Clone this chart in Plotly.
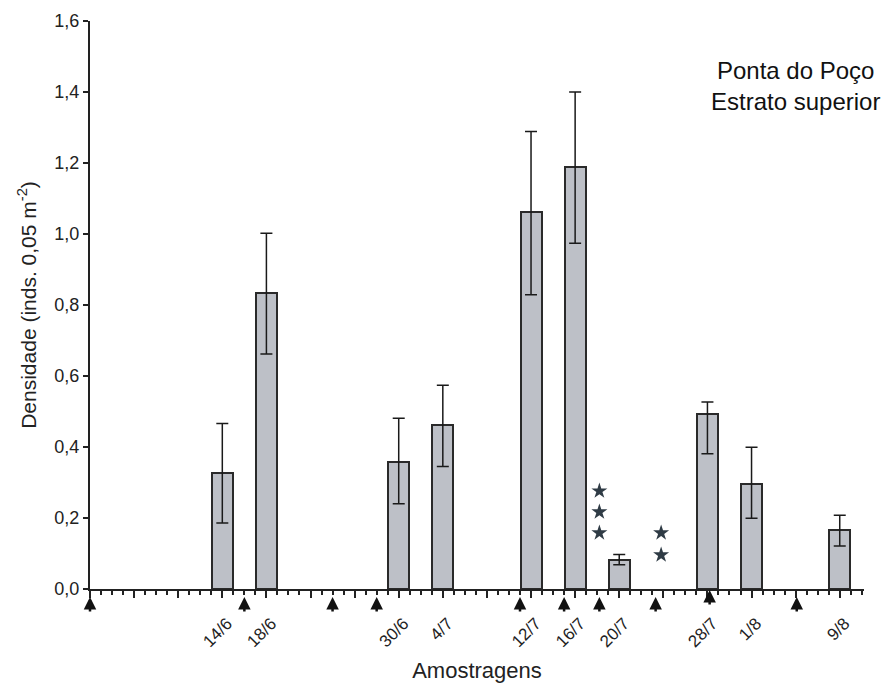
import plotly.graph_objects as go

# ---- data (day index: 0 = 2 June) ----
sample_labels = ["14/6", "18/6", "30/6", "4/7", "12/7", "16/7", "20/7", "28/7", "1/8", "9/8"]
sample_days = [12, 16, 28, 32, 40, 44, 48, 56, 60, 68]
density = [0.327, 0.833, 0.359, 0.461, 1.061, 1.188, 0.083, 0.494, 0.297, 0.165]
err_upper = [0.466, 1.002, 0.481, 0.574, 1.289, 1.400, 0.097, 0.527, 0.399, 0.208]
err_lower = [0.186, 0.662, 0.240, 0.345, 0.829, 0.974, 0.068, 0.381, 0.199, 0.121]

arrow_days = [0, 14, 22, 26, 39, 43, 46.2, 51.3, 56.2, 64.1]
arrow_raised = [0, 0, 0, 0, 0, 0, 0, 0, 1, 0]

star_x = [46.2, 46.2, 46.2, 51.8, 51.8]
star_y = [0.276, 0.217, 0.158, 0.158, 0.096]

x_range = [0, 70.2]
y_range = [0, 1.6]
y_ticks = [0, 0.2, 0.4, 0.6, 0.8, 1.0, 1.2, 1.4, 1.6]
y_ticktext = ["0,0", "0,2", "0,4", "0,6", "0,8", "1,0", "1,2", "1,4", "1,6"]

FONT = "Liberation Sans, Arial, sans-serif"
INK = "#222222"

err_plus = [u - v for u, v in zip(err_upper, density)]
err_minus = [v - l for v, l in zip(density, err_lower)]

major_vals = list(range(0, 72, 4))
label_map = dict(zip(sample_days, sample_labels))
major_text = [label_map.get(v, "") for v in major_vals]

fig = go.Figure()
fig.add_trace(go.Bar(
    x=sample_days, y=density, width=1.9,
    marker=dict(color="#bdc0c7", line=dict(color="#2a2a2a", width=2)),
    error_y=dict(type="data", symmetric=False, array=err_plus, arrayminus=err_minus,
                 color="#1a1a1a", thickness=1.5, width=6),
    showlegend=False, hoverinfo="skip",
))
fig.add_trace(go.Scatter(
    x=star_x, y=star_y, mode="markers",
    marker=dict(symbol="star", size=12, color="#2f3b45"),
    showlegend=False, hoverinfo="skip", cliponaxis=False,
))

for d, r in zip(arrow_days, arrow_raised):
    fig.add_annotation(
        x=d, y=0, xref="x", yref="y", text="", showarrow=True,
        ax=0, ay=16, axref="pixel", ayref="pixel",
        yshift=-8 + 7 * r, arrowhead=2, arrowsize=1, arrowwidth=2.5,
        arrowcolor="#111111", standoff=0,
    )

fig.add_annotation(
    x=0.912, y=0.94, xref="paper", yref="paper", showarrow=False,
    text="Ponta do Poço<br>Estrato superior", align="center",
    font=dict(family=FONT, size=24, color="#111111"),
    xanchor="center", yanchor="top",
)

fig.update_layout(
    width=885, height=685,
    margin=dict(l=90, r=21, t=21, b=96, autoexpand=False),
    plot_bgcolor="white", paper_bgcolor="white",
    font=dict(family=FONT, color=INK),
    bargap=0,
)
fig.update_xaxes(
    range=x_range, showgrid=False, zeroline=False, automargin=False,
    showline=True, linecolor=INK, linewidth=2,
    tickmode="array", tickvals=major_vals, ticktext=major_text,
    ticks="outside", ticklen=7, tickwidth=1.5, tickcolor=INK,
    tickangle=-45, tickfont=dict(size=17, family=FONT, color=INK),
    ticklabelstandoff=9, ticklabelshift=5,
    minor=dict(tickmode="linear", tick0=0, dtick=1, ticks="outside",
               ticklen=4, tickwidth=1.5, tickcolor=INK),
    title=dict(text="Amostragens", font=dict(size=22, family=FONT, color=INK), standoff=12),
)
fig.update_yaxes(
    range=y_range, showgrid=False, zeroline=False, automargin=False,
    showline=True, linecolor=INK, linewidth=2,
    tickmode="array", tickvals=y_ticks, ticktext=y_ticktext,
    ticks="outside", ticklen=5, tickwidth=1.5, tickcolor=INK,
    tickfont=dict(size=18, family=FONT, color=INK),
    title=dict(text="Densidade (inds. 0,05 m<sup>-2</sup>)",
               font=dict(size=21, family=FONT, color=INK), standoff=12),
)

fig.write_html("out.html")
